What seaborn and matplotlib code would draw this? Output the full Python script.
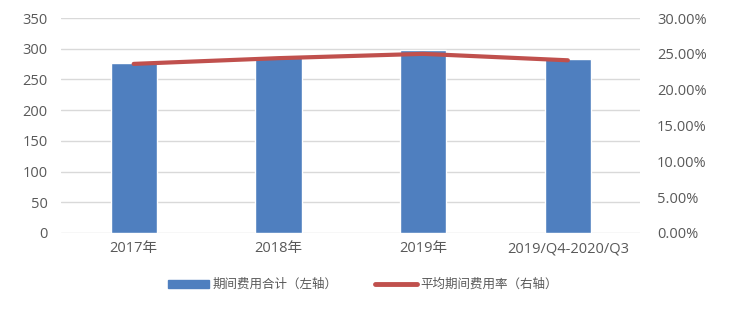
import matplotlib
matplotlib.use("Agg")
import matplotlib.pyplot as plt
import seaborn as sns
import numpy as np
import pandas as pd
from matplotlib.ticker import FuncFormatter, MultipleLocator
from matplotlib.patches import Patch
from matplotlib.lines import Line2D

categories = ["2017年", "2018年", "2019年", "2019/Q4-2020/Q3"]
expenses = [277, 287, 298, 284]
rate = [0.236, 0.244, 0.250, 0.241]
bar_label = "期间费用合计（左轴）"
line_label = "平均期间费用率（右轴）"

sns.set_theme(style="white")
plt.rcParams['font.family'] = ['Noto Sans CJK SC', 'DejaVu Sans']

blue = "#4f7fbf"
red = "#c0504d"
gray = "#595959"
grid = "#d9d9d9"

fig = plt.figure(figsize=(7.3, 3.11), dpi=100)
ax = fig.add_axes([0.084, 0.251, 0.793, 0.691])
df = pd.DataFrame({"cat": categories, "val": expenses, "rate": rate})
sns.barplot(data=df, x="cat", y="val", color=blue, width=0.32, saturation=1, ax=ax)
ax.set_xlim(-0.5, 3.5)
ax.set_ylim(0, 350)
ax.yaxis.set_major_locator(MultipleLocator(50))
ax.grid(axis="y", color=grid, linewidth=1)
ax.set_axisbelow(True)
for s in ax.spines.values():
    s.set_visible(False)
ax.set_xlabel("")
ax.set_ylabel("")
ax.tick_params(axis="both", length=0, colors=gray, labelsize=10.5)
ax.tick_params(axis="y", pad=10)
ax.tick_params(axis="x", pad=6)
for t in ax.get_xticklabels() + ax.get_yticklabels():
    t.set_family(['Open Sans', 'Noto Sans CJK SC'])
    t.set_color(gray)

ax2 = ax.twinx()
sns.lineplot(x=np.arange(len(categories)), y=df["rate"], color=red, linewidth=3, ax=ax2)
ax2.set_ylim(0, 0.30)
ax2.yaxis.set_major_locator(MultipleLocator(0.05))
ax2.yaxis.set_major_formatter(FuncFormatter(lambda v, p: f"{v*100:.2f}%"))
for s in ax2.spines.values():
    s.set_visible(False)
ax2.set_ylabel("")
ax2.tick_params(axis="y", length=0, colors=gray, labelsize=10.5, pad=12)
for t in ax2.get_yticklabels():
    t.set_family(['Open Sans', 'DejaVu Sans'])
ax2.set_xlim(-0.5, 3.5)

handles = [Patch(facecolor=blue, edgecolor=blue, label=bar_label),
           Line2D([0], [0], color=red, linewidth=3.5, label=line_label)]
fig.legend(handles=handles, loc="center", bbox_to_anchor=(0.497, 0.085), ncol=2,
           frameon=False, fontsize=9, handlelength=3.3, handleheight=0.6,
           columnspacing=3.0, handletextpad=0.3, labelcolor=gray)

fig.savefig("out.png", dpi=100)
